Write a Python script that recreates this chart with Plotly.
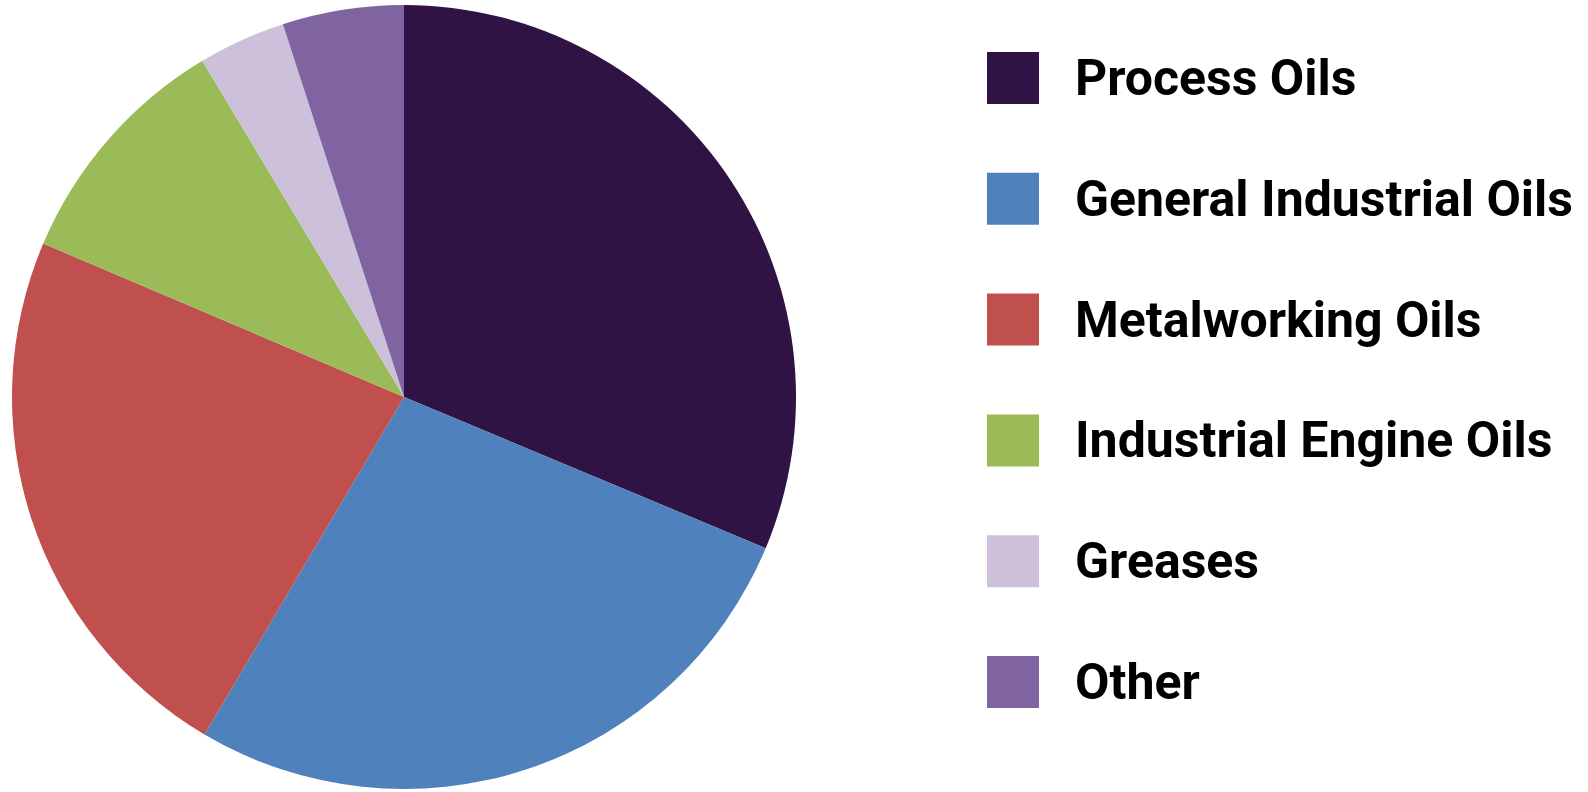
import plotly.graph_objects as go

# Industrial lubricant demand by product group (share, %)
labels = ["Process Oils", "General Industrial Oils", "Metalworking Oils",
          "Industrial Engine Oils", "Greases", "Other"]
values = [31.3, 27.2, 22.9, 10.0, 3.6, 5.0]
colors = ["#301345", "#4F81BD", "#C0504D", "#9BBB59", "#CCC0DA", "#8064A2"]

W, H = 1588, 792

fig = go.Figure()
fig.add_trace(go.Pie(
    labels=labels,
    values=values,
    sort=False,
    direction="clockwise",
    rotation=0,
    textinfo="none",
    hoverinfo="label+percent",
    marker=dict(colors=colors, line=dict(width=0)),
    domain=dict(x=[12 / W, 796 / W], y=[3 / H, 787 / H]),
    showlegend=False,
))

# Custom legend: large swatches with bold labels
legend_font = dict(family="Roboto, sans-serif", size=50, color="#000000")
row_top = 78
row_step = 120.8
sw = 52
for i, (lab, col) in enumerate(zip(labels, colors)):
    cy = row_top + i * row_step
    fig.add_shape(
        type="rect", xref="paper", yref="paper",
        x0=987 / W, x1=(987 + sw) / W,
        y0=1 - (cy - sw / 2) / H, y1=1 - (cy + sw / 2) / H,
        fillcolor=col, line=dict(width=0),
    )
    fig.add_annotation(
        xref="paper", yref="paper",
        x=1073 / W, y=1 - cy / H,
        xanchor="left", yanchor="middle",
        text="<b>" + lab + "</b>", showarrow=False,
        font=legend_font,
    )

fig.update_layout(
    width=W, height=H,
    margin=dict(l=0, r=0, t=0, b=0),
    paper_bgcolor="white",
    plot_bgcolor="white",
)

fig.write_html("out.html")
